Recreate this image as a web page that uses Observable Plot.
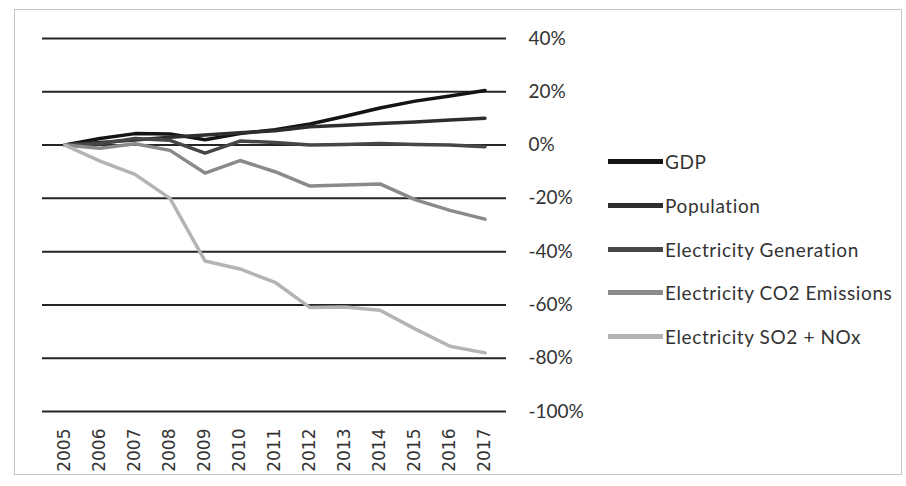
<!DOCTYPE html>
<html>
<head>
<meta charset="utf-8">
<script src="https://cdn.jsdelivr.net/npm/d3@7"></script>
<script src="https://cdn.jsdelivr.net/npm/@observablehq/plot@0.6"></script>
<style>
  html, body { margin: 0; padding: 0; background: #fff; }
  #wrap { position: relative; width: 906px; height: 486px; }
  #frame { position: absolute; left: 14px; top: 9px; width: 888px; height: 466px; border: 1px solid #c4c4c4; box-sizing: border-box; pointer-events: none; }
  #legend { position: absolute; left: 608px; top: 140px; font-family: Lato, "Open Sans", sans-serif; font-size: 19px; letter-spacing: 0.6px; color: #333; }
  .row { display: flex; align-items: center; height: 43.7px; }
  .sw { width: 55px; height: 5px; margin-right: 2px; }
</style>
</head>
<body>
<div id="wrap">
  <div id="chart"></div>
  <div id="frame"></div>
  <div id="legend"></div>
</div>
<script>
const years = [2005, 2006, 2007, 2008, 2009, 2010, 2011, 2012, 2013, 2014, 2015, 2016, 2017];
const seriesNames = ["GDP", "Population", "Electricity Generation", "Electricity CO2 Emissions", "Electricity SO2 + NOx"];
const gdp        = [0, 2.5, 4.3, 4.2, 2.0, 4.3, 5.8, 7.9, 10.8, 13.9, 16.5, 18.4, 20.5];
const population = [0, 1.0, 1.9, 2.9, 3.8, 4.6, 5.4, 6.9, 7.4, 8.1, 8.7, 9.4, 10.1];
const generation = [0, 0.5, 2.5, 1.8, -3.0, 1.5, 1.0, 0.0, 0.2, 0.6, 0.2, 0.0, -0.6];
const co2        = [0, -1.2, 0.5, -2.0, -10.5, -5.8, -10.0, -15.4, -15.0, -14.6, -20.5, -24.5, -27.8];
const so2nox     = [0, -6.0, -11.0, -20.0, -43.5, -46.5, -51.5, -61.0, -60.8, -62.0, -69.0, -75.5, -78.0];
const yTicks = [40, 20, 0, -20, -40, -60, -80, -100];
const colors = ["#141414", "#2e2e2e", "#474747", "#8a8a8a", "#b4b4b4"];

const seriesValues = [gdp, population, generation, co2, so2nox];
const data = [];
seriesNames.forEach((name, i) => {
  years.forEach((yr, j) => data.push({series: name, year: String(yr), value: seriesValues[i][j]}));
});

const chart = Plot.plot({
  width: 906,
  height: 486,
  marginTop: 38,
  marginBottom: 75,
  marginLeft: 42,
  marginRight: 400,
  style: {fontFamily: "Lato, 'Open Sans', sans-serif", fontSize: "19px", color: "#333", background: "transparent"},
  x: {type: "band", domain: years.map(String), padding: 0, align: 0.5, label: null},
  y: {domain: [-100, 40], label: null},
  color: {domain: seriesNames, range: colors},
  marks: [
    Plot.ruleY(yTicks, {stroke: "#262626", strokeWidth: 2}),
    Plot.axisY({anchor: "right", ticks: yTicks, tickSize: 0, tickPadding: 22, textAnchor: "start", tickFormat: d => d + "%", label: null, fill: "#333", fontSize: 19}),
    Plot.axisX({anchor: "bottom", tickSize: 0, tickPadding: 17, tickRotate: -90, label: null, fill: "#333", fontFamily: "'DejaVu Sans', sans-serif", fontSize: 17}),
    Plot.line(data, {x: "year", y: "value", z: "series", stroke: "series", strokeWidth: 3.5, curve: "linear"})
  ]
});
document.getElementById("chart").appendChild(chart);

const legend = document.getElementById("legend");
seriesNames.forEach((name, i) => {
  const row = document.createElement("div");
  row.className = "row";
  const sw = document.createElement("div");
  sw.className = "sw";
  sw.style.background = colors[i];
  const t = document.createElement("span");
  t.textContent = name;
  row.appendChild(sw); row.appendChild(t);
  legend.appendChild(row);
});
</script>
</body>
</html>
